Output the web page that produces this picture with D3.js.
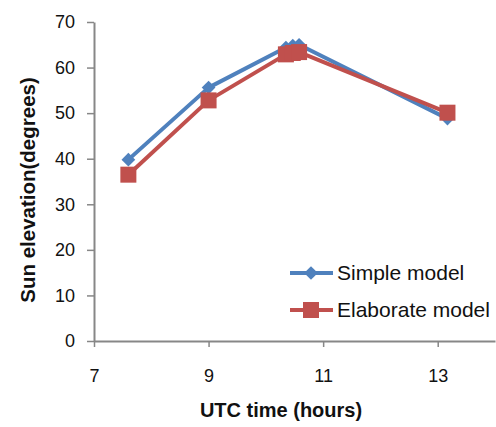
<!DOCTYPE html>
<html>
<head>
<meta charset="utf-8">
<script src="https://cdn.jsdelivr.net/npm/d3@7"></script>
<style>
  body { margin: 0; background: #fff; }
  text { font-family: "Liberation Sans", Arial, sans-serif; }
</style>
</head>
<body>
<div id="chart"></div>
<script>
var hours = [7.6, 9.0, 10.35, 10.47, 10.58, 13.17];
var simpleModel = [39.8, 55.6, 64.4, 64.8, 65.0, 48.8];
var elaborateModel = [36.5, 52.8, 62.9, 63.2, 63.4, 50.1];
var seriesNames = ["Simple model", "Elaborate model"];
var xTicks = [7, 9, 11, 13];
var yTicks = [0, 10, 20, 30, 40, 50, 60, 70];

var svgWidth = 496;
var svgHeight = 427;

var margin = { top: 22, right: 1, bottom: 86, left: 94 };
var width = svgWidth - margin.left - margin.right;
var height = svgHeight - margin.top - margin.bottom;

var svg = d3.select("#chart")
  .append("svg")
  .attr("width", svgWidth)
  .attr("height", svgHeight);

var chartGroup = svg.append("g")
  .attr("transform", `translate(${margin.left}, ${margin.top})`);

var xScale = d3.scaleLinear().domain([7, 14]).range([0, width]);
var yScale = d3.scaleLinear().domain([0, 70]).range([height, 0]);

var axisColor = "#878787";

// y axis
var leftAxis = d3.axisLeft(yScale).tickValues(yTicks).tickFormat(d3.format("d"))
  .tickSize(7).tickPadding(12).tickSizeOuter(0);
var yAxisG = chartGroup.append("g").call(leftAxis);
yAxisG.select(".domain").attr("stroke", axisColor).attr("stroke-width", 2);
yAxisG.selectAll(".tick line").attr("stroke", axisColor).attr("stroke-width", 1.5);
yAxisG.selectAll(".tick text").attr("font-size", "18px").attr("fill", "#111")
  .attr("font-family", "'Liberation Sans', Arial, sans-serif");

// x axis
var bottomAxis = d3.axisBottom(xScale).tickValues(xTicks).tickFormat(d3.format("d"))
  .tickSize(6).tickPadding(22).tickSizeOuter(0);
var xAxisG = chartGroup.append("g")
  .attr("transform", `translate(0, ${height})`)
  .call(bottomAxis);
xAxisG.select(".domain").attr("stroke", axisColor).attr("stroke-width", 2);
xAxisG.selectAll(".tick line").attr("stroke", axisColor).attr("stroke-width", 1.5);
xAxisG.selectAll(".tick text").attr("font-size", "18px").attr("fill", "#111")
  .attr("font-family", "'Liberation Sans', Arial, sans-serif");

var colors = ["#4f81bd", "#c0504d"];
var allSeries = [simpleModel, elaborateModel];

var line = d3.line()
  .x((d, i) => xScale(hours[i]))
  .y(d => yScale(d));

var diamond = d3.symbol().type(d3.symbolDiamond2).size(120);

allSeries.forEach(function(vals, s) {
  chartGroup.append("path")
    .datum(vals)
    .attr("fill", "none")
    .attr("stroke", colors[s])
    .attr("stroke-width", 4)
    .attr("stroke-linejoin", "round")
    .attr("d", line);

  var g = chartGroup.append("g");
  vals.forEach(function(v, i) {
    var cx = xScale(hours[i]);
    var cy = yScale(v);
    if (s === 0) {
      g.append("path")
        .attr("d", diamond())
        .attr("transform", `translate(${cx},${cy})`)
        .attr("fill", colors[s]);
    } else {
      g.append("rect")
        .attr("x", cx - 8).attr("y", cy - 8)
        .attr("width", 16).attr("height", 16)
        .attr("fill", colors[s]);
    }
  });
});

// legend
var legend = svg.append("g");
seriesNames.forEach(function(name, s) {
  var ly = 273 + s * 37;
  legend.append("line")
    .attr("x1", 290).attr("x2", 333)
    .attr("y1", ly).attr("y2", ly)
    .attr("stroke", colors[s]).attr("stroke-width", 4);
  if (s === 0) {
    legend.append("path")
      .attr("d", diamond())
      .attr("transform", `translate(311,${ly})`)
      .attr("fill", colors[s]);
  } else {
    legend.append("rect")
      .attr("x", 303).attr("y", ly - 8)
      .attr("width", 16).attr("height", 16)
      .attr("fill", colors[s]);
  }
  legend.append("text")
    .attr("x", 337).attr("y", ly)
    .attr("dy", "0.35em")
    .attr("font-size", "21px")
    .attr("fill", "#111")
    .text(name);
});

// axis titles
svg.append("text")
  .attr("transform", "translate(28, 190) rotate(-90)")
  .attr("text-anchor", "middle")
  .attr("dy", "0.35em")
  .attr("font-size", "20.5px")
  .attr("font-weight", "bold")
  .attr("fill", "#111")
  .text("Sun elevation(degrees)");

svg.append("text")
  .attr("x", 281).attr("y", 410)
  .attr("text-anchor", "middle")
  .attr("dy", "0.35em")
  .attr("font-size", "20px")
  .attr("font-weight", "bold")
  .attr("fill", "#111")
  .text("UTC time (hours)");
</script>
</body>
</html>
